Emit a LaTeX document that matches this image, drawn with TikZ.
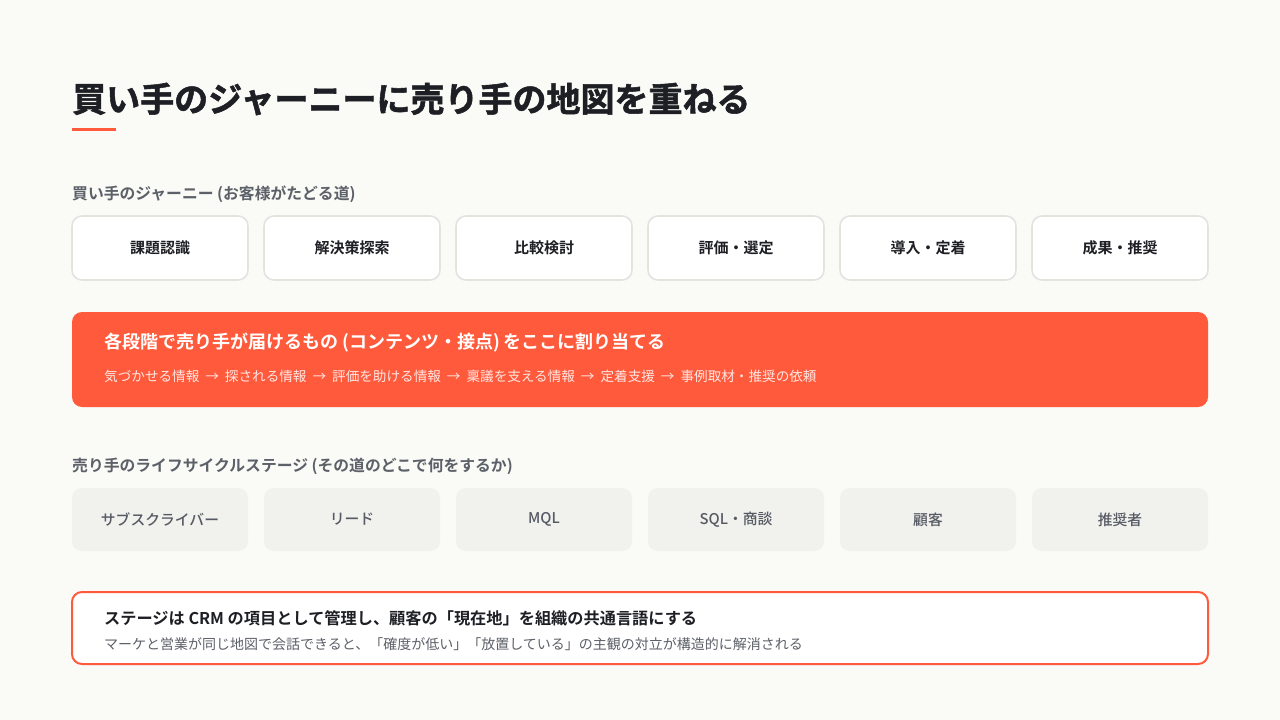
\documentclass[tikz,border=0pt]{standalone}
\usepackage{fontspec}
\setmainfont{Noto Sans CJK JP}[BoldFont={Noto Sans CJK JP Bold}]
\newfontfamily\jpblack{Noto Sans CJK JP Bold}[FakeBold=1.6]
\newfontfamily\jpmed{Noto Sans CJK JP Medium}
\newcommand\myarr{\hspace{6pt}→\hspace{6pt}}
\definecolor{bg}{HTML}{FAFAF6}
\definecolor{accent}{HTML}{FF5A3C}
\definecolor{ink}{HTML}{1E1F24}
\definecolor{sub}{HTML}{5C6068}
\definecolor{jborder}{HTML}{E4E4DE}
\definecolor{sfill}{HTML}{F1F1ED}
\definecolor{stext}{HTML}{555A63}
\begin{document}
\begin{tikzpicture}[x=1pt,y=-1pt,
  jbox/.style={draw=jborder,line width=1.6pt,fill=white,rounded corners=10pt,minimum width=176pt,minimum height=64pt,inner sep=0pt,font=\bfseries\fontsize{15}{17}\selectfont,text=ink},
  sbox/.style={fill=sfill,rounded corners=10pt,minimum width=176pt,minimum height=63pt,inner sep=0pt,font=\jpmed\fontsize{14.8}{17}\selectfont,text=stext},
  seclabel/.style={anchor=west,inner sep=0pt,font=\bfseries\fontsize{15.8}{18}\selectfont,text=sub}]
\fill[bg] (0,0) rectangle (1280,720);
\useasboundingbox (0,0) rectangle (1280,720);
% title
\node[anchor=west,inner sep=0pt,font=\jpblack\fontsize{34}{40}\selectfont,text=ink] (title) at (72,99) {買い手のジャーニーに売り手の地図を重ねる};
\fill[accent] (72,128) rectangle (116,131);
% journey
\node[seclabel] (jl) at (72,194) {買い手のジャーニー (お客様がたどる道)};
\foreach \i/\t in {0/課題認識,1/解決策探索,2/比較検討,3/評価・選定,4/導入・定着,5/成果・推奨}{
  \node[jbox] (j\i) at (160+192*\i,248) {\t};
}
% orange box
\node[fill=accent,rounded corners=10pt,minimum width=1136pt,minimum height=95pt,inner sep=0pt] (ob) at (640,359.5) {};
\node[anchor=west,inner sep=0pt,text=white,font=\bfseries\fontsize{18}{21}\selectfont] (obt) at (104,343) {各段階で売り手が届けるもの (コンテンツ・接点) をここに割り当てる};
\node[anchor=west,inner sep=0pt,text=white,opacity=0.85,font=\fontsize{13.6}{16}\selectfont] (obs) at (104,376) {気づかせる情報\myarr 探される情報\myarr 評価を助ける情報\myarr 稟議を支える情報\myarr 定着支援\myarr 事例取材・推奨の依頼};
% stages
\node[seclabel] (sl) at (72,466) {売り手のライフサイクルステージ (その道のどこで何をするか)};
\foreach \i/\t in {0/サブスクライバー,1/リード,2/MQL,3/SQL・商談,4/顧客,5/推奨者}{
  \node[sbox] (s\i) at (160+192*\i,519.5) {\t};
}
% bottom box
\node[draw=accent,line width=2pt,fill=white,rounded corners=10pt,minimum width=1136pt,minimum height=72pt,inner sep=0pt] (bb) at (640,628) {};
\node[anchor=west,inner sep=0pt,text=ink,font=\bfseries\fontsize{16.2}{19}\selectfont] (bbt) at (104,618) {ステージは CRM の項目として管理し、顧客の「現在地」を組織の共通言語にする};
\node[anchor=west,inner sep=0pt,text=sub,font=\fontsize{14}{16}\selectfont] (bbs) at (104,644) {マーケと営業が同じ地図で会話できると、「確度が低い」「放置している」の主観の対立が構造的に解消される};
\end{tikzpicture}
\end{document}
